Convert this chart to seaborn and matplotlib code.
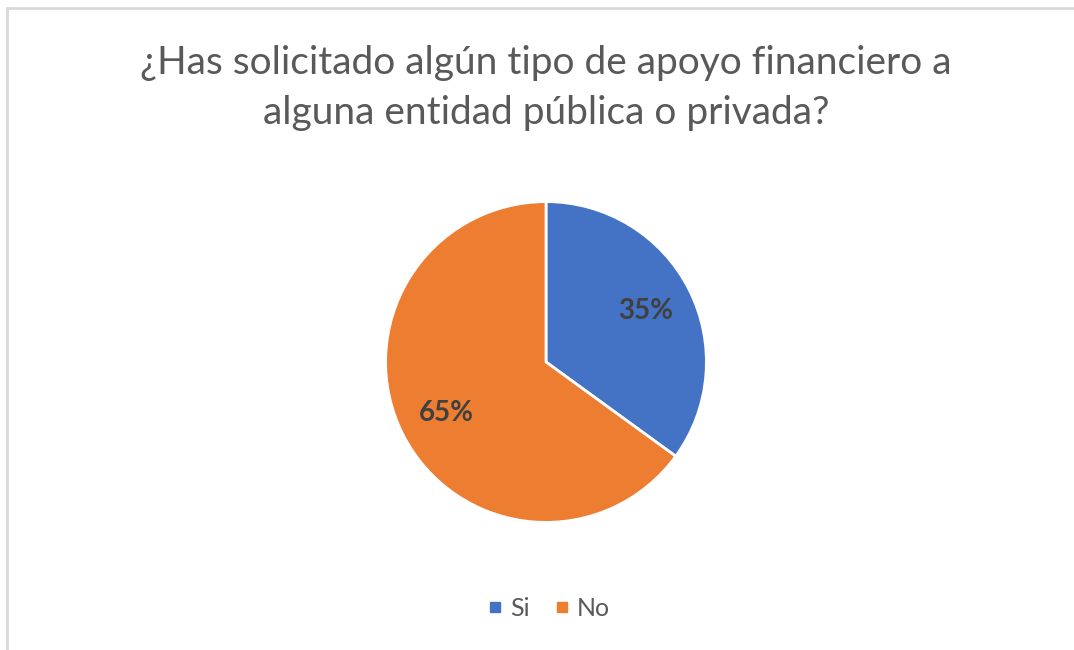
import matplotlib
matplotlib.use("Agg")
import seaborn as sns
from matplotlib import pyplot as plt
from matplotlib.lines import Line2D

# Chart data
categories = ["Si", "No"]
values = [35, 65]
colors = ["#4472C4", "#ED7D31"]
title = "¿Has solicitado algún tipo de apoyo financiero a\nalguna entidad pública o privada?"

sns.set_theme(style="white")
plt.rcParams['font.family'] = ['Lato', 'DejaVu Sans']

W, H = 1074, 650
fig = plt.figure(figsize=(W / 100, H / 100), dpi=100)
fig.patch.set_facecolor("white")

# pie centred at (546, 362) px with radius 162 px
cx, cy, r = 546, 362, 162
ax = fig.add_axes([(cx - r) / W, (H - cy - r) / H, 2 * r / W, 2 * r / H])

wedges, texts, autotexts = ax.pie(
    values, colors=colors, startangle=90, counterclock=False,
    autopct="%1.0f%%", pctdistance=0.7,
    wedgeprops=dict(edgecolor="white", linewidth=2),
    textprops=dict(fontsize=20, fontweight="bold", color="#404040"))
ax.set_xlim(-1.01, 1.01)
ax.set_ylim(-1.01, 1.01)
ax.set_aspect("equal")

fig.text(cx / W, 1 - 88 / H, title, ha="center", va="center",
         fontsize=28, color="#595959", linespacing=1.5)

handles = [Line2D([0], [0], marker="s", linestyle="", markersize=7,
                  markerfacecolor=c, markeredgecolor=c) for c in colors]
leg = fig.legend(handles, categories, loc="center", bbox_to_anchor=(cx / W, 1 - 608 / H),
                 ncol=2, frameon=False, fontsize=18, handletextpad=0.1,
                 columnspacing=0.8, handlelength=1.0)
for t in leg.get_texts():
    t.set_color("#595959")

# light chart-area border (top and left visible)
fig.add_artist(Line2D([7 / W, 7 / W], [0, 1 - 8 / H], color="#d9d9d9", lw=2))
fig.add_artist(Line2D([7 / W, 1], [1 - 8 / H, 1 - 8 / H], color="#d9d9d9", lw=2))

fig.savefig("out.png", dpi=100, facecolor="white")
